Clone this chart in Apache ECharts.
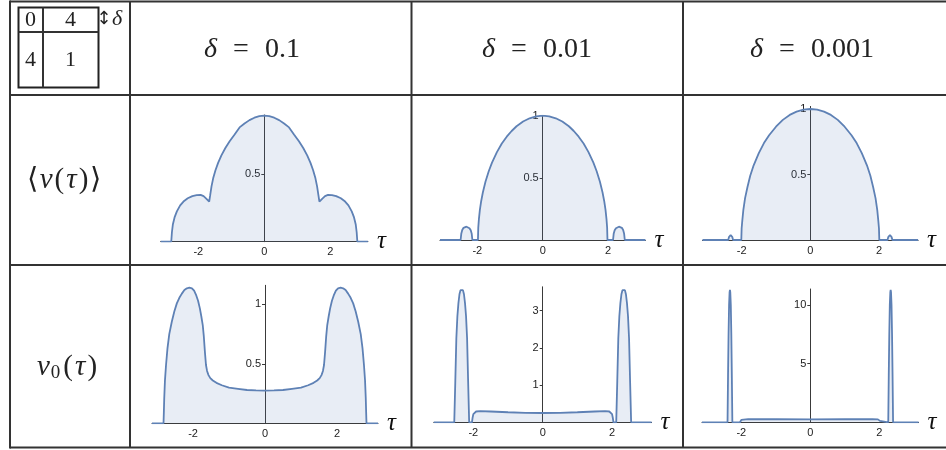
<!DOCTYPE html>
<html>
<head>
<meta charset="utf-8">
<script src="https://cdn.jsdelivr.net/npm/echarts@6.0.0/dist/echarts.min.js"></script>
<style>
html, body { margin: 0; padding: 0; background: #fff; }
#chart { width: 946px; height: 450px; }
</style>
</head>
<body>
<div id="chart"></div>
<script>
// column headers
const deltas = ['0.1', '0.01', '0.001']
const xTicks = [-2, 0, 2]

// <v(tau)>, delta = 0.1
const tauAvg1 = [-3.14, -2.82, -2.80, -2.77, -2.72, -2.65, -2.55, -2.45, -2.32, -2.18, -2.05, -1.93, -1.84, -1.76, -1.67, -1.64, -1.60, -1.55, -1.48, -1.40, -1.30, -1.18, -1.05, -0.90, -0.75, -0.60, -0.45, -0.30, -0.15,
  0, 0.15, 0.30, 0.45, 0.60, 0.75, 0.90, 1.05, 1.18, 1.30, 1.40, 1.48, 1.55, 1.60, 1.64, 1.67, 1.76, 1.84, 1.93, 2.05, 2.18, 2.32, 2.45, 2.55, 2.65, 2.72, 2.77, 2.80, 2.82, 3.14]
const avg1 = [0, 0, 0.07, 0.13, 0.18, 0.225, 0.27, 0.298, 0.322, 0.338, 0.346, 0.347, 0.338, 0.32, 0.297, 0.345, 0.41, 0.47, 0.53, 0.585, 0.64, 0.695, 0.745, 0.795, 0.848, 0.877, 0.902, 0.92, 0.931,
  0.935, 0.931, 0.92, 0.902, 0.877, 0.848, 0.795, 0.745, 0.695, 0.64, 0.585, 0.53, 0.47, 0.41, 0.345, 0.297, 0.32, 0.338, 0.347, 0.346, 0.338, 0.322, 0.298, 0.27, 0.225, 0.18, 0.13, 0.07, 0, 0]

// <v(tau)>, delta = 0.01
const tauAvg2 = [-3.14, -2.51, -2.49, -2.46, -2.42, -2.37, -2.33, -2.29, -2.24, -2.20, -2.17, -2.15, -1.98, -1.97, -1.95, -1.92, -1.88, -1.83, -1.75, -1.65, -1.55, -1.40, -1.25, -1.10, -0.95, -0.80, -0.60, -0.40, -0.20,
  0, 0.20, 0.40, 0.60, 0.80, 0.95, 1.10, 1.25, 1.40, 1.55, 1.65, 1.75, 1.83, 1.88, 1.92, 1.95, 1.97, 1.98, 2.15, 2.17, 2.20, 2.24, 2.29, 2.33, 2.37, 2.42, 2.46, 2.49, 2.51, 3.14]
const avg2 = [0, 0, 0.05, 0.08, 0.098, 0.106, 0.107, 0.105, 0.095, 0.078, 0.05, 0, 0, 0.1, 0.17, 0.245, 0.314, 0.382, 0.468, 0.553, 0.622, 0.707, 0.776, 0.831, 0.877, 0.915, 0.953, 0.979, 0.995,
  1.0, 0.995, 0.979, 0.953, 0.915, 0.877, 0.831, 0.776, 0.707, 0.622, 0.553, 0.468, 0.382, 0.314, 0.245, 0.17, 0.1, 0, 0, 0.05, 0.078, 0.095, 0.105, 0.107, 0.106, 0.098, 0.08, 0.05, 0, 0]

// <v(tau)>, delta = 0.001
const tauAvg3 = [-3.14, -2.39, -2.37, -2.34, -2.32, -2.30, -2.27, -2.25, -2.01, -2.00, -1.98, -1.95, -1.90, -1.83, -1.75, -1.65, -1.50, -1.35, -1.20, -1.00, -0.80, -0.60, -0.40, -0.20,
  0, 0.20, 0.40, 0.60, 0.80, 1.00, 1.20, 1.35, 1.50, 1.65, 1.75, 1.83, 1.90, 1.95, 1.98, 2.00, 2.01, 2.25, 2.27, 2.30, 2.32, 2.34, 2.37, 2.39, 3.14]
const avg3 = [0, 0, 0.022, 0.035, 0.038, 0.035, 0.022, 0, 0, 0.09, 0.15, 0.23, 0.32, 0.405, 0.49, 0.57, 0.663, 0.74, 0.80, 0.865, 0.917, 0.955, 0.98, 0.995,
  1.0, 0.995, 0.98, 0.955, 0.917, 0.865, 0.80, 0.74, 0.663, 0.57, 0.49, 0.405, 0.32, 0.23, 0.15, 0.09, 0, 0, 0.022, 0.035, 0.038, 0.035, 0.022, 0, 0]

// v0(tau), delta = 0.1
const tauV1 = [-3.14, -2.82, -2.81, -2.80, -2.78, -2.75, -2.71, -2.66, -2.59, -2.52, -2.45, -2.38, -2.31, -2.24, -2.17, -2.10, -2.03, -1.97, -1.91, -1.86, -1.81, -1.77, -1.73, -1.70, -1.67, -1.64, -1.61, -1.57, -1.52, -1.45, -1.35, -1.20, -1.00, -0.75, -0.50, -0.25,
  0, 0.25, 0.50, 0.75, 1.00, 1.20, 1.35, 1.45, 1.52, 1.57, 1.61, 1.64, 1.67, 1.70, 1.73, 1.77, 1.81, 1.86, 1.91, 1.97, 2.03, 2.10, 2.17, 2.24, 2.31, 2.38, 2.45, 2.52, 2.59, 2.66, 2.71, 2.75, 2.78, 2.80, 2.81, 2.82, 3.14]
const v1 = [0, 0, 0.10, 0.21, 0.36, 0.49, 0.63, 0.75, 0.854, 0.94, 1.008, 1.055, 1.09, 1.12, 1.135, 1.14, 1.135, 1.115, 1.075, 1.03, 0.966, 0.90, 0.826, 0.73, 0.60, 0.49, 0.44, 0.405, 0.38, 0.36, 0.34, 0.32, 0.30, 0.29, 0.28, 0.276,
  0.275, 0.276, 0.28, 0.29, 0.30, 0.32, 0.34, 0.36, 0.38, 0.405, 0.44, 0.49, 0.60, 0.73, 0.826, 0.90, 0.966, 1.03, 1.075, 1.115, 1.135, 1.14, 1.135, 1.12, 1.09, 1.055, 1.008, 0.94, 0.854, 0.75, 0.63, 0.49, 0.36, 0.21, 0.10, 0, 0]

// v0(tau), delta = 0.01
const tauV2 = [-3.14, -2.55, -2.52, -2.49, -2.46, -2.43, -2.40, -2.37, -2.335, -2.30, -2.27, -2.24, -2.21, -2.18, -2.15, -2.12, -2.04, -2.02, -2.00, -1.97, -1.92, -1.80, -1.50, -1.00, -0.50,
  0, 0.50, 1.00, 1.50, 1.80, 1.92, 1.97, 2.00, 2.02, 2.04, 2.12, 2.15, 2.18, 2.21, 2.24, 2.27, 2.30, 2.335, 2.37, 2.40, 2.43, 2.46, 2.49, 2.52, 2.55, 3.14]
const v2 = [0, 0, 1.1, 2.26, 2.85, 3.2, 3.44, 3.55, 3.57, 3.55, 3.44, 3.2, 2.85, 2.26, 1.1, 0, 0, 0.13, 0.22, 0.27, 0.29, 0.30, 0.29, 0.27, 0.255,
  0.25, 0.255, 0.27, 0.29, 0.30, 0.29, 0.27, 0.22, 0.13, 0, 0, 1.1, 2.26, 2.85, 3.2, 3.44, 3.55, 3.57, 3.55, 3.44, 3.2, 2.85, 2.26, 1.1, 0, 0]

// v0(tau), delta = 0.001
const tauV3 = [-3.14, -2.40, -2.385, -2.37, -2.355, -2.34, -2.33, -2.32, -2.305, -2.29, -2.275, -2.26, -2.04, -2.02, -2.00, -1.96, -1.80, -1.00,
  0, 1.00, 1.80, 1.96, 2.00, 2.02, 2.04, 2.26, 2.275, 2.29, 2.305, 2.32, 2.33, 2.34, 2.355, 2.37, 2.385, 2.40, 3.14]
const v3 = [0, 0, 4.0, 7.5, 10.0, 11.1, 11.28, 11.1, 10.0, 7.5, 4.0, 0, 0, 0.12, 0.2, 0.25, 0.27, 0.26,
  0.25, 0.26, 0.27, 0.25, 0.2, 0.12, 0, 0, 4.0, 7.5, 10.0, 11.1, 11.28, 11.1, 10.0, 7.5, 4.0, 0, 0]

// y tick labels per panel
const yTicksAvg1 = [0.5]
const yTicksAvg2 = [0.5, 1]
const yTicksAvg3 = [0.5, 1]
const yTicksV1 = [0.5, 1]
const yTicksV2 = [1, 2, 3]
const yTicksV3 = [5, 10]

// panel boxes: left, top, width, height
const panels = [
  { tau: tauAvg1, val: avg1, yMax: 0.94, yTicks: yTicksAvg1, box: [160.7, 115, 207.2, 126.7] },
  { tau: tauAvg2, val: avg2, yMax: 1.0, yTicks: yTicksAvg2, box: [440, 115.7, 205.4, 124.3] },
  { tau: tauAvg3, val: avg3, yMax: 1.02, yTicks: yTicksAvg3, box: [702.5, 106.4, 215.6, 133.6] },
  { tau: tauV1, val: v1, yMax: 1.16, yTicks: yTicksV1, box: [152, 285.3, 226, 138] },
  { tau: tauV2, val: v2, yMax: 3.64, yTicks: yTicksV2, box: [433.8, 286.8, 217.8, 135.5] },
  { tau: tauV3, val: v3, yMax: 11.36, yTicks: yTicksV3, box: [702, 289, 216.6, 133.3] }
]

const lineColor = '#5e81b5'
const axisColor = '#3a3a3a'
const tickFont = { fontFamily: 'Liberation Sans', fontSize: 11, color: '#222' }

const grids = []
const xAxes = []
const yAxes = []
const series = []

panels.forEach((p, i) => {
  grids.push({ left: p.box[0], top: p.box[1], width: p.box[2], height: p.box[3] })
  xAxes.push({
    gridIndex: i,
    type: 'value',
    min: -3.14,
    max: 3.14,
    axisLine: { onZero: true, lineStyle: { color: axisColor, width: 1 } },
    axisTick: { show: false },
    splitLine: { show: false },
    axisLabel: {
      ...tickFont,
      margin: 5,
      customValues: xTicks,
      formatter: v => xTicks.includes(v) ? String(v) : ''
    },
    name: 'τ',
    nameLocation: 'end',
    nameGap: 9,
    nameTextStyle: { fontFamily: 'Liberation Serif', fontStyle: 'italic', fontSize: 25, color: '#111', verticalAlign: 'middle' }
  })
  // y axis sits on tau = 0, the middle of the box
  yAxes.push({
    gridIndex: i,
    type: 'value',
    min: 0,
    max: p.yMax,
    position: 'left',
    offset: -p.box[2] / 2,
    axisLine: { onZero: false, lineStyle: { color: axisColor, width: 1 } },
    axisTick: { show: true, inside: false, length: 3, customValues: p.yTicks, lineStyle: { color: axisColor } },
    splitLine: { show: false },
    axisLabel: {
      ...tickFont,
      margin: 4,
      customValues: p.yTicks,
      formatter: v => p.yTicks.includes(v) ? String(v) : ''
    }
  })
  series.push({
    type: 'line',
    xAxisIndex: i,
    yAxisIndex: i,
    data: p.tau.map((t, k) => [t, p.val[k]]),
    showSymbol: false,
    symbol: 'none',
    silent: true,
    lineStyle: { color: lineColor, width: 1.8 },
    areaStyle: { color: 'rgba(94,129,181,0.2)' }
  })
})

// table frame
const frame = '#333'
const hline = (y, x1, x2, w) => ({ type: 'line', shape: { x1, y1: y, x2, y2: y }, style: { stroke: frame, lineWidth: w || 2 } })
const vline = (x, y1, y2, w) => ({ type: 'line', shape: { x1: x, y1, x2: x, y2 }, style: { stroke: frame, lineWidth: w || 2 } })
const serif = 'Liberation Serif'
const txt = (x, y, text, size, extra) => ({
  type: 'text', x, y,
  style: Object.assign({ text, fontFamily: serif, fontSize: size, fill: '#222', align: 'center', verticalAlign: 'middle' }, extra || {})
})
const tok = (style) => Object.assign({ fontFamily: serif, fontSize: 28, fill: '#222', lineHeight: 32, padding: [0, 0, 0, 0] }, style || {})

const graphic = [
  hline(1.5, 10, 946), hline(95, 10, 946), hline(265, 10, 946), hline(447.5, 10, 946),
  vline(10, 0.5, 448.5), vline(130, 1, 448), vline(411.5, 1, 448), vline(683, 1, 448),
  // corner legend
  { type: 'rect', shape: { x: 18.5, y: 7.5, width: 80, height: 80 }, style: { stroke: '#222', fill: null, lineWidth: 2 } },
  vline(43, 7.5, 87.5), hline(32, 18.5, 98.5),
  txt(30.5, 20, '0', 22), txt(70.5, 20, '4', 22), txt(30.5, 60, '4', 22), txt(70.5, 60, '1', 22),
  txt(104, 19, '↕', 18, { fontFamily: 'DejaVu Sans' }),
  txt(117, 19, 'δ', 22, { fontStyle: 'italic' }),
  // column headers
  ...deltas.map((d, k) => txt([256, 541, 816][k], 50, '{i|δ}{n|=}{n|' + d + '}', 28, {
    rich: {
      i: tok({ fontStyle: 'italic', padding: [0, 8, 0, 0] }),
      n: tok({ padding: [0, 8, 0, 8] })
    }
  })),
  // row headers
  txt(64, 180, '{n|⟨}{i|v}{n|(}{i|τ}{n|)}{n|⟩}', 28, {
    rich: { i: tok({ fontStyle: 'italic', fontSize: 29, padding: [0, 1, 0, 1] }), n: tok({ fontSize: 29, padding: [0, 1, 0, 1] }) }
  }),
  txt(67, 367, '{i|v}{s|0}{n|(}{i|τ}{n|)}', 28, {
    rich: {
      i: tok({ fontStyle: 'italic', fontSize: 29, padding: [0, 1, 0, 1] }),
      n: tok({ fontSize: 29, padding: [0, 1, 0, 1] }),
      s: tok({ fontSize: 19, lineHeight: 19, verticalAlign: 'bottom', padding: [0, 2, 0, 0] })
    }
  })
]

const chart = echarts.init(document.getElementById('chart'))
chart.setOption({
  animation: false,
  backgroundColor: '#fff',
  grid: grids,
  xAxis: xAxes,
  yAxis: yAxes,
  series: series,
  graphic: graphic
})
</script>
</body>
</html>
